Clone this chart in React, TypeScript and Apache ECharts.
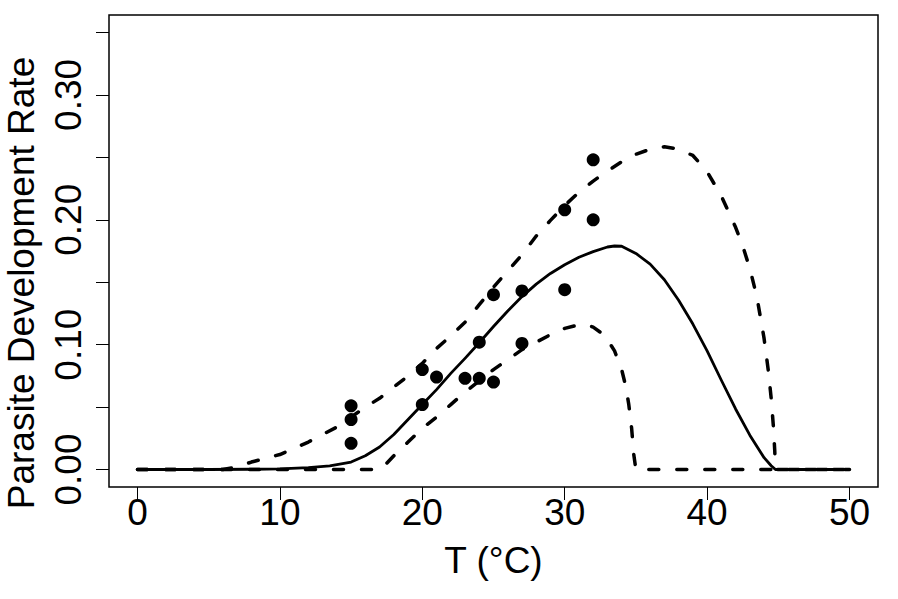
import React, { useEffect, useRef } from "react";
import * as echarts from "echarts";

// Observed development rates
const obsT = [15, 15, 15, 20, 20, 21, 23, 24, 24, 25, 25, 27, 27, 30, 30, 32, 32];
const obsRate = [0.051, 0.040, 0.021, 0.080, 0.052, 0.074, 0.073, 0.102, 0.073, 0.140, 0.070, 0.143, 0.101, 0.208, 0.144, 0.248, 0.200];

// Median fitted curve
const medianT = [0, 5, 8, 10, 12, 13.5, 15, 16, 17, 18, 19, 20, 21, 22, 23, 24, 25, 26, 27, 28, 29, 30, 31, 32, 33, 33.5, 34, 35, 36, 37, 38, 39, 40, 41, 42, 43, 44, 44.5, 44.8, 50];
const medianRate = [0, 0, 0.0002, 0.0005, 0.0015, 0.003, 0.006, 0.011, 0.018, 0.028, 0.040, 0.052, 0.064, 0.077, 0.089, 0.1015, 0.1145, 0.127, 0.1385, 0.1485, 0.157, 0.164, 0.170, 0.1745, 0.1782, 0.179, 0.1788, 0.173, 0.1645, 0.152, 0.1355, 0.1165, 0.095, 0.0715, 0.0485, 0.0275, 0.0095, 0.003, 0, 0];

// Upper credible bound
const upperT = [0, 6, 7, 8, 9, 10, 11, 12, 13, 14, 15, 16, 17, 18, 19, 20, 21, 22, 23, 24, 25, 26, 27, 28, 29, 30, 31, 32, 33, 34, 35, 36, 37, 38, 39, 40, 41, 42, 42.5, 43, 43.5, 44, 44.3, 44.5, 44.65, 44.75, 44.8, 50];
const upperRate = [0, 0, 0.002, 0.006, 0.009, 0.012, 0.017, 0.022, 0.028, 0.034, 0.042, 0.050, 0.057, 0.066, 0.075, 0.085, 0.097, 0.107, 0.118, 0.132, 0.146, 0.159, 0.172, 0.187, 0.1995, 0.2115, 0.222, 0.231, 0.239, 0.2465, 0.2525, 0.2565, 0.2585, 0.2565, 0.2515, 0.2385, 0.219, 0.194, 0.179, 0.161, 0.138, 0.105, 0.079, 0.057, 0.035, 0.015, 0, 0];

// Lower credible bound
const lowerT = [0, 17, 17.5, 18, 19, 20, 21, 22, 23, 24, 25, 26, 27, 28, 29, 30, 31, 31.5, 32, 32.5, 33, 33.5, 34, 34.3, 34.5, 34.7, 34.85, 35, 50];
const lowerRate = [0, 0, 0.005, 0.011, 0.022, 0.033, 0.042, 0.052, 0.062, 0.071, 0.080, 0.088, 0.096, 0.102, 0.108, 0.113, 0.116, 0.116, 0.114, 0.110, 0.104, 0.095, 0.080, 0.066, 0.052, 0.033, 0.012, 0, 0];

const xTicks = [0, 10, 20, 30, 40, 50];
const yTicks = [0, 0.05, 0.1, 0.15, 0.2, 0.25, 0.3, 0.35];
const yLabels = [0, 0.1, 0.2, 0.3];

const xTitle = "T (°C)";
const yTitle = "Parasite Development Rate";

const FONT = '"Liberation Sans", Arial, Helvetica, sans-serif';

const zip = (xs: number[], ys: number[]) => xs.map((x, i) => [x, ys[i]]);

export default function App() {
  const ref = useRef<HTMLDivElement>(null);
  useEffect(() => {
    if (!ref.current) return;
    const chart = echarts.init(ref.current, undefined, { renderer: "svg" });
    const dashed = { color: "#000", width: 3.5, type: [10, 18] as any, cap: "round" as any };
    chart.setOption({
      animation: false,
      backgroundColor: "#fff",
      grid: {
        left: 109, right: 20, top: 15, bottom: 112,
        show: true, borderColor: "#000", borderWidth: 1.5, backgroundColor: "transparent",
      },
      xAxis: {
        type: "value", min: -2, max: 52,
        axisLine: { show: false, onZero: false },
        splitLine: { show: false },
        axisTick: { show: true, length: 13, lineStyle: { color: "#000", width: 1 }, customValues: xTicks },
        axisLabel: { customValues: xTicks, fontSize: 37, color: "#000", fontFamily: FONT, margin: 7 },
      },
      yAxis: {
        type: "value", min: -0.014, max: 0.364,
        axisLine: { show: false, onZero: false },
        splitLine: { show: false },
        axisTick: { show: true, length: 13, lineStyle: { color: "#000", width: 1 }, customValues: yTicks },
        axisLabel: {
          customValues: yLabels, rotate: 90, fontSize: 37, color: "#000", fontFamily: FONT, margin: 22,
          formatter: (v: number) => v.toFixed(2),
        },
      },
      graphic: [
        {
          type: "text", x: 493.5, y: 560,
          style: { text: xTitle, font: `37px ${FONT}`, fill: "#000", align: "center", verticalAlign: "middle", textAlign: "center", textVerticalAlign: "middle" },
        },
        {
          type: "text", x: 21.5, y: 283, rotation: Math.PI / 2,
          style: { text: yTitle, font: `37px ${FONT}`, fill: "#000", align: "center", verticalAlign: "middle", textAlign: "center", textVerticalAlign: "middle" },
        },
      ],
      series: [
        {
          type: "line", data: zip(upperT, upperRate), showSymbol: false,
          lineStyle: dashed, silent: true,
        },
        {
          type: "line", data: zip(lowerT, lowerRate), showSymbol: false,
          lineStyle: dashed, silent: true,
        },
        {
          type: "line", data: zip(medianT, medianRate), showSymbol: false,
          lineStyle: { color: "#000", width: 2.8, type: "solid", join: "round" }, silent: true,
        },
        {
          type: "scatter", data: zip(obsT, obsRate), symbol: "circle", symbolSize: 13,
          itemStyle: { color: "#000", opacity: 1 }, z: 5, silent: true,
        },
      ],
    });
    return () => chart.dispose();
  }, []);
  return <div ref={ref} style={{ position: "fixed", left: 0, top: 0, width: 898, height: 599 }} />;
}
